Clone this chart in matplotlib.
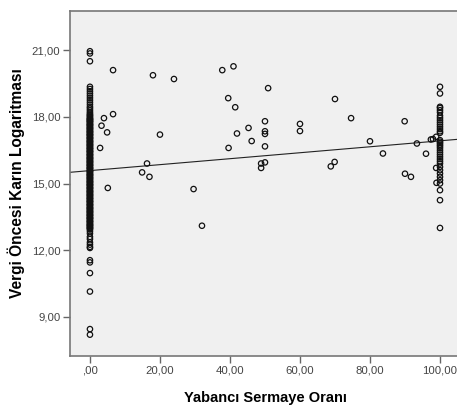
import numpy as np
import matplotlib
matplotlib.use("Agg")
import matplotlib.pyplot as plt
from matplotlib.ticker import FuncFormatter

plt.rcParams['font.family'] = ['Liberation Sans', 'DejaVu Sans']

# firms with no foreign capital (x = 0)
y_zero = [20.95, 20.85, 20.5,
          19.35, 19.25, 19.15, 19.05, 18.95, 18.85, 18.75, 18.65, 18.55, 18.45,
          18.38, 18.3, 18.22, 18.15,
          18.10, 18.06, 18.02, 17.97, 17.93, 17.90, 17.85, 17.81, 17.77, 17.72,
          17.68, 17.65, 17.60, 17.56, 17.52, 17.47, 17.43, 17.40, 17.35, 17.31,
          17.27, 17.22, 17.18, 17.15, 17.10, 17.06, 17.02, 16.97, 16.93, 16.90,
          16.85, 16.81, 16.77, 16.72, 16.68, 16.65, 16.60, 16.56, 16.52, 16.47,
          16.43, 16.40, 16.35, 16.31, 16.27, 16.22, 16.18, 16.15, 16.10, 16.06,
          16.02, 15.97, 15.93, 15.90, 15.85, 15.81, 15.77, 15.72, 15.68, 15.65,
          15.60, 15.56, 15.52, 15.47, 15.43, 15.40, 15.35, 15.31, 15.27, 15.22,
          15.18, 15.15, 15.10, 15.06, 15.02, 14.97, 14.93, 14.90, 14.85, 14.81,
          14.77, 14.72, 14.68, 14.65, 14.60, 14.56, 14.52, 14.47, 14.43, 14.40,
          14.35, 14.31, 14.27, 14.22, 14.18, 14.15, 14.10, 14.06, 14.02, 13.97,
          13.93, 13.90, 13.85, 13.81, 13.77, 13.72, 13.68, 13.65, 13.60, 13.56,
          13.52, 13.47, 13.43, 13.40, 13.35, 13.31, 13.27, 13.22, 13.18, 13.15,
          13.10, 13.06, 13.02, 12.97, 12.93,
          12.85, 12.75, 12.6, 12.5, 12.35, 12.25, 12.15, 12.1,
          11.55, 11.45, 10.97, 10.14, 8.45, 8.2]

# more x = 0 firms packed into the dense middle of the column
y_zero_core = [17.88, 17.79, 17.63, 17.49, 17.33, 17.20, 17.04, 16.88, 16.74,
               16.58, 16.45, 16.29, 16.13, 15.99, 15.83, 15.70, 15.54, 15.38,
               15.25, 15.08, 14.95, 14.79, 14.63, 14.49, 14.33, 14.20, 14.04,
               13.88, 13.74, 13.58, 13.45, 13.29, 13.12, 13.00]

# fully foreign-owned firms (x = 100)
y_full = [19.35, 19.05, 18.45, 18.4, 18.3, 18.2, 18.05, 17.95, 17.85, 17.75,
          17.65, 17.55, 17.45, 17.35, 17.28, 16.95, 16.88, 16.82, 16.75, 16.68,
          16.6, 16.5, 16.4, 16.3, 16.2, 16.1, 16.0, 15.9, 15.75, 15.6, 15.45,
          15.3, 15.15, 15.0, 14.7, 14.25, 13.0]

# everything in between
x_mid = [6.6, 18, 24, 37.8, 39.5, 4, 6.6, 3.3, 4.9, 20, 2.9, 39.6, 16.3, 14.9,
         17, 5.1, 29.6, 32, 41, 50.9, 41.5, 70, 74.6, 89.9, 50, 45.3, 42, 50,
         50, 60, 60, 46.2, 50, 80, 83.7, 93.4, 96, 97.4, 98, 98.9, 48.9, 48.9,
         50, 69.9, 68.8, 90, 91.7, 98.9, 99]
y_mid = [20.1, 19.87, 19.7, 20.1, 18.84, 17.94, 18.12, 17.6, 17.3, 17.2, 16.6,
         16.6, 15.9, 15.5, 15.3, 14.8, 14.75, 13.1, 20.27, 19.29, 18.43, 18.8,
         17.94, 17.8, 17.8, 17.5, 17.25, 17.35, 17.23, 17.68, 17.36, 16.91,
         16.67, 16.9, 16.35, 16.8, 16.34, 16.98, 17.0, 17.1, 15.9, 15.7, 15.95,
         15.97, 15.77, 15.44, 15.3, 15.7, 15.03]

# fit line
intercept = 15.58
slope = 0.0134

y_zero_all = y_zero + y_zero_core
x_all = [0.0] * len(y_zero_all) + [100.0] * len(y_full) + x_mid
y_all = y_zero_all + y_full + y_mid

fig = plt.figure(figsize=(4.57, 4.08), dpi=100)
ax = fig.add_axes([70 / 457, 52 / 408, 391 / 457, 345 / 408])
ax.set_facecolor('#f0f0f0')

ax.scatter(x_all, y_all, s=15, facecolors='none', edgecolors='#111111',
           linewidths=0.9, zorder=3)

xmin, xmax = -5.7, 106.0
xs = np.array([xmin, xmax])
ax.plot(xs, intercept + slope * xs, color='#222222', lw=0.8, zorder=2)

ax.set_xlim(xmin, xmax)
ax.set_ylim(7.24, 22.76)
ax.set_xticks([0, 20, 40, 60, 80, 100])
ax.set_yticks([9, 12, 15, 18, 21])

def fmt(v, pos):
    s = '%.2f' % v
    s = s.replace('.', ',')
    if s.startswith('0,'):
        s = s[1:]
    return s

ax.xaxis.set_major_formatter(FuncFormatter(fmt))
ax.yaxis.set_major_formatter(FuncFormatter(fmt))

ax.tick_params(direction='out', length=5, width=1, color='#666666',
               labelcolor='#444444', labelsize=8.2, pad=2)

for side in ['left', 'bottom', 'top']:
    ax.spines[side].set_color('#777777')
    ax.spines[side].set_linewidth(1.2)
ax.spines['right'].set_visible(False)

ax.set_xlabel('Yabancı Sermaye Oranı', fontsize=10.5, fontweight='bold',
              labelpad=11)
ax.set_ylabel('Vergi Öncesi Karın Logaritması', fontsize=11.2,
              fontweight='bold', labelpad=5)

fig.savefig('out.png', dpi=100, facecolor='white')
